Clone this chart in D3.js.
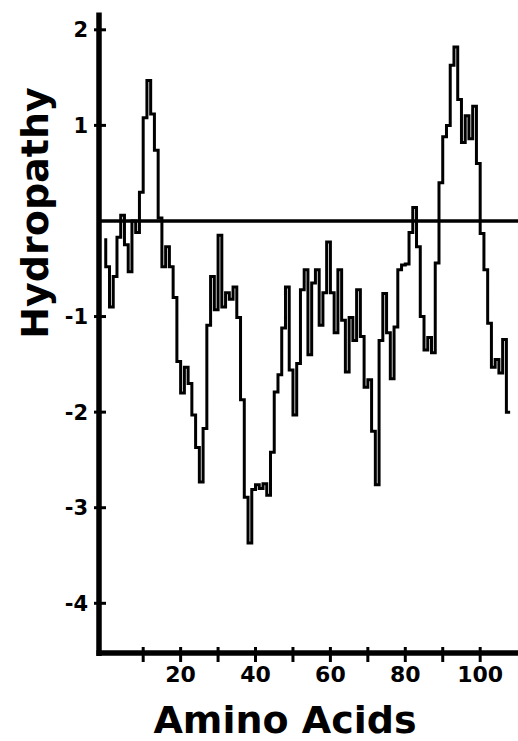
<!DOCTYPE html>
<html>
<head>
<meta charset="utf-8">
<script src="https://cdn.jsdelivr.net/npm/d3@7"></script>
<style>
  html, body { margin: 0; padding: 0; background: #fff; }
</style>
</head>
<body>
<div id="grafico"></div>
<script>
  // valores de hidropatia por residuo
  const primerResiduo = 0;
  const hidropatia = [
    -0.18, -0.48, -0.9, -0.58, -0.17, 0.06, -0.25, -0.53, 0.0, -0.12,
    0.3, 1.08, 1.47, 1.12, 0.74, 0.03, -0.48, -0.27, -0.48, -0.8,
    -1.47, -1.8, -1.53, -1.7, -2.03, -2.37, -2.73, -2.17, -1.09, -0.58,
    -0.93, -0.15, -0.9, -0.75, -0.82, -0.69, -1.01, -1.87, -2.89, -3.37,
    -2.81, -2.76, -2.8, -2.75, -2.87, -2.42, -1.79, -1.61, -1.12, -0.69,
    -1.56, -2.03, -1.49, -0.72, -0.51, -1.4, -0.65, -0.51, -1.09, -0.75,
    -0.22, -0.75, -1.17, -0.51, -1.04, -1.58, -1.01, -1.25, -0.72, -1.21,
    -1.74, -1.66, -2.2, -2.76, -1.25, -0.76, -1.17, -1.65, -1.11, -0.51,
    -0.46, -0.45, -0.12, 0.14, -0.27, -1.0, -1.35, -1.22, -1.38, -0.44,
    0.4, 0.88, 1.0, 1.63, 1.82, 1.27, 0.82, 1.1, 0.86, 1.2,
    0.6, -0.13, -0.51, -1.07, -1.53, -1.45, -1.59, -1.24, -2.0
  ];

  const ticksY = [2, 1, -1, -2, -3, -4];
  const ticksX = [10, 20, 30, 40, 50, 60, 70, 80, 90, 100];
  const etiquetasX = [20, 40, 60, 80, 100];

  const width = 518;
  const height = 741;
  const fuente = "DejaVu Sans, sans-serif";

  const x = d3.scaleLinear()
    .domain([-1.8, 110.1])
    .range([99, 518]);

  const y = d3.scaleLinear()
    .domain([-4.52, 2.18])
    .range([653, 12.6]);

  const svg = d3.create("svg")
    .attr("width", width)
    .attr("height", height)
    .style("display", "block")
    .style("background", "#fff")
    .style("font-family", fuente);

  // linea del cero
  svg.append("line")
    .attr("x1", x.range()[0])
    .attr("x2", x.range()[1])
    .attr("y1", y(0))
    .attr("y2", y(0))
    .attr("stroke", "#000")
    .attr("stroke-width", 3.5);

  // perfil escalonado
  const linea = d3.line()
    .x((d, i) => x(primerResiduo + i))
    .y(d => y(d))
    .curve(d3.curveStepBefore);

  svg.append("path")
    .datum(hidropatia)
    .attr("d", linea)
    .attr("fill", "none")
    .attr("stroke", "#000")
    .attr("stroke-width", 3);

  // ejes
  svg.append("line")
    .attr("x1", x.range()[0])
    .attr("x2", x.range()[0])
    .attr("y1", y.range()[1])
    .attr("y2", y.range()[0] + 3)
    .attr("stroke", "#000")
    .attr("stroke-width", 5.5);

  svg.append("line")
    .attr("x1", x.range()[0] - 2.5)
    .attr("x2", x.range()[1])
    .attr("y1", y.range()[0])
    .attr("y2", y.range()[0])
    .attr("stroke", "#000")
    .attr("stroke-width", 5.5);

  svg.append("g")
    .selectAll("line")
    .data(ticksY)
    .join("line")
    .attr("x1", x.range()[0] - 5)
    .attr("x2", x.range()[0] + 7)
    .attr("y1", d => y(d))
    .attr("y2", d => y(d))
    .attr("stroke", "#000")
    .attr("stroke-width", 3);

  svg.append("g")
    .selectAll("text")
    .data(ticksY)
    .join("text")
    .attr("x", 88)
    .attr("y", d => y(d))
    .attr("dy", "0.36em")
    .attr("text-anchor", "end")
    .style("font-size", "21px")
    .style("font-weight", "bold")
    .text(d => String(d));

  svg.append("g")
    .selectAll("line")
    .data(ticksX)
    .join("line")
    .attr("x1", d => x(d))
    .attr("x2", d => x(d))
    .attr("y1", y.range()[0] - 6)
    .attr("y2", y.range()[0] + 9)
    .attr("stroke", "#000")
    .attr("stroke-width", 3);

  svg.append("g")
    .selectAll("text")
    .data(etiquetasX)
    .join("text")
    .attr("x", d => x(d))
    .attr("y", 682)
    .attr("text-anchor", "middle")
    .style("font-size", "22px")
    .style("font-weight", "bold")
    .text(d => d);

  // titulos
  svg.append("text")
    .attr("x", 285)
    .attr("y", 733)
    .attr("text-anchor", "middle")
    .style("font-size", "38px")
    .style("font-weight", "bold")
    .text("Amino Acids");

  svg.append("text")
    .attr("transform", "translate(48,213) rotate(-90)")
    .attr("text-anchor", "middle")
    .style("font-size", "38px")
    .style("font-weight", "bold")
    .text("Hydropathy");

  document
    .getElementById("grafico")
    .append(svg.node());
</script>
</body>
</html>
